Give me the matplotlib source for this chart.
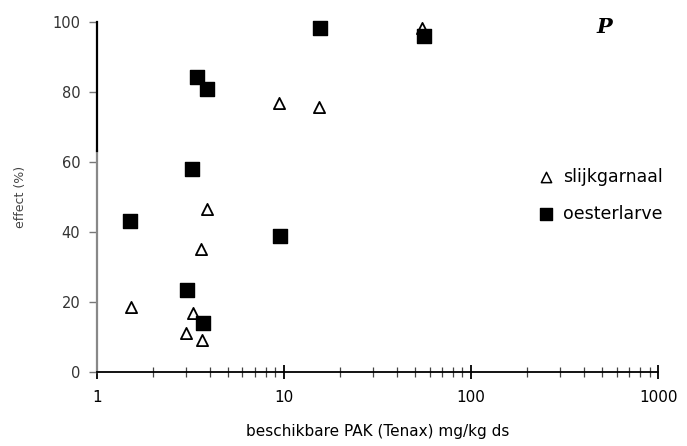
import matplotlib.pyplot as plt

# Tenax-available PAH vs. effect for two test organisms
slijk_x = [1.52, 3.87, 3.6, 3.26, 2.99, 3.64, 9.4, 15.4, 55]
slijk_y = [18.6, 46.6, 35.1, 16.9, 11, 9.1, 76.9, 75.7, 98.3]

oester_x = [1.5, 3.43, 3.87, 3.22, 3.03, 3.69, 9.5, 15.6, 56]
oester_y = [43, 84.3, 80.9, 58, 23.4, 14, 38.9, 98.3, 96]

yticks = [0, 20, 40, 60, 80, 100]
xticks = [1, 10, 100, 1000]

fig = plt.figure(figsize=(6.87, 4.46), dpi=100)
ax = fig.add_axes([0.141, 0.166, 0.817, 0.785])

ax.scatter(slijk_x, slijk_y, marker='^', s=65, facecolors='white',
           edgecolors='black', linewidths=1.3, clip_on=False, zorder=3)
ax.scatter(oester_x, oester_y, marker='s', s=95, color='black',
           clip_on=False, zorder=3)

ax.set_xscale('log')
ax.set_xlim(1, 1000)
ax.set_ylim(0, 100)

for side in ['top', 'right', 'left']:
    ax.spines[side].set_visible(False)
ax.spines['bottom'].set_linewidth(1.3)

# y-axis drawn in two parts
ax.axvline(1, ymin=0, ymax=0.63, color='#888888', lw=1.6, clip_on=False)
ax.axvline(1, ymin=0.63, ymax=1.0, color='black', lw=1.6, clip_on=False)

ax.set_xticks(xticks)
ax.set_xticklabels([str(t) for t in xticks], fontsize=11)
ax.set_yticks(yticks)
ax.set_yticklabels([str(t) for t in yticks], fontsize=10.5, color='#333333')
ax.tick_params(axis='x', which='major', direction='inout', length=10, width=1.3, pad=8)
ax.tick_params(axis='x', which='minor', direction='inout', length=7, width=0.9, color='#444444')
ax.tick_params(axis='y', direction='out', length=6, width=1.0, color='#777777', pad=6)

ax.set_ylabel('effect (%)', fontsize=9, color='#444444', labelpad=18)
ax.set_xlabel('beschikbare PAK (Tenax) mg/kg ds', fontsize=11, labelpad=14)

# legend entries
ax.scatter([0.80], [0.557], marker='^', s=55, facecolors='white', edgecolors='black',
           linewidths=1.1, transform=ax.transAxes, clip_on=False)
ax.text(0.83, 0.557, 'slijkgarnaal', transform=ax.transAxes, fontsize=12.5, va='center')
ax.scatter([0.80], [0.451], marker='s', s=75, color='black',
           transform=ax.transAxes, clip_on=False)
ax.text(0.83, 0.451, 'oesterlarve', transform=ax.transAxes, fontsize=12.5, va='center')

ax.text(0.89, 0.985, 'P', transform=ax.transAxes, fontsize=15, family='DejaVu Serif',
        fontweight='bold', fontstyle='italic', va='center')

plt.savefig('out.png', dpi=100)
